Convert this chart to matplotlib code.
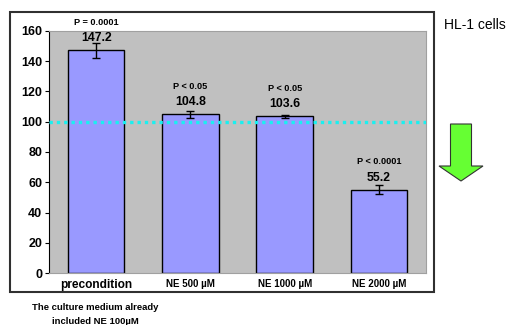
import matplotlib
matplotlib.use("Agg")
import matplotlib.pyplot as plt
from matplotlib.patches import Rectangle, FancyArrow

plt.rcParams['font.family'] = ['Liberation Sans', 'DejaVu Sans']

categories = ["precondition", "NE 500 \u00b5M", "NE 1000 \u00b5M", "NE 2000 \u00b5M"]
values = [147.2, 104.8, 103.6, 55.2]
errors = [5.0, 2.0, 1.0, 3.2]
p_labels = ["P = 0.0001", "P < 0.05", "P < 0.05", "P < 0.0001"]
baseline = 100
y_ticks = [0, 20, 40, 60, 80, 100, 120, 140, 160]

W, H = 509, 325
fig = plt.figure(figsize=(W / 100, H / 100), dpi=100)
fig.patch.set_facecolor("white")

# outer chart frame
fig.patches.append(Rectangle((10 / W, 1 - 292 / H), 424 / W, 280 / H,
                             transform=fig.transFigure, fill=False,
                             edgecolor="#303030", linewidth=1.5))

ax = fig.add_axes([49 / W, 1 - 273 / H, 377 / W, 242 / H])
ax.set_facecolor("#C0C0C0")
x = list(range(len(categories)))
ax.bar(x, values, width=0.6, color="#9999FF", edgecolor="black", linewidth=1.0, zorder=2)
ax.errorbar(x, values, yerr=errors, fmt="none", ecolor="black", elinewidth=1.0,
            capsize=3, capthick=1.0, zorder=3)
ax.axhline(baseline, color="#1AF0F0", linestyle=(0, (1, 1.2)), linewidth=2.4, zorder=4)

ax.set_xlim(-0.5, len(categories) - 0.5)
ax.set_ylim(0, 160)
ax.set_yticks(y_ticks)
ax.set_yticklabels([str(t) for t in y_ticks], fontsize=9, fontweight="bold")
ax.set_xticks(x)
ax.set_xticklabels(categories, fontweight="bold")
for i, lab in enumerate(ax.get_xticklabels()):
    lab.set_fontsize(8.6 if i == 0 else 7.0)
ax.tick_params(axis="y", length=3, width=0.8, pad=2)
ax.tick_params(axis="x", length=0, pad=4)

for s in ["top", "right"]:
    ax.spines[s].set_color("#A0A0A0")
ax.spines["bottom"].set_color("#A0A0A0")
ax.spines["left"].set_color("black")

for xi, v, p in zip(x, values, p_labels):
    ax.annotate(f"{v:.1f}", (xi, v), xytext=(0, 12), textcoords="offset pixels",
                ha="center", va="center", fontsize=8.8, fontweight="bold")
    ax.annotate(p, (xi, v), xytext=(0, 28), textcoords="offset pixels",
                ha="center", va="center", fontsize=6.6, fontweight="bold",
                annotation_clip=False)

fig.text(444 / W, 1 - 25 / H, "HL-1 cells", fontsize=10, ha="left", va="center")

fig.text(95 / W, 1 - 308 / H, "The culture medium already", fontsize=6.8,
         fontweight="bold", ha="center", va="center")
fig.text(95 / W, 1 - 321 / H, "included NE 100\u00b5M", fontsize=6.8,
         fontweight="bold", ha="center", va="center")

# downward green arrow
fig.patches.append(FancyArrow(461 / W, 1 - 124 / H, 0, -(181 - 124) / H,
                              width=21 / W, head_width=44 / W,
                              head_length=15 / H, length_includes_head=True,
                              transform=fig.transFigure, facecolor="#66FF33",
                              edgecolor="#333333", linewidth=0.8))

fig.savefig("out.png", dpi=100)
